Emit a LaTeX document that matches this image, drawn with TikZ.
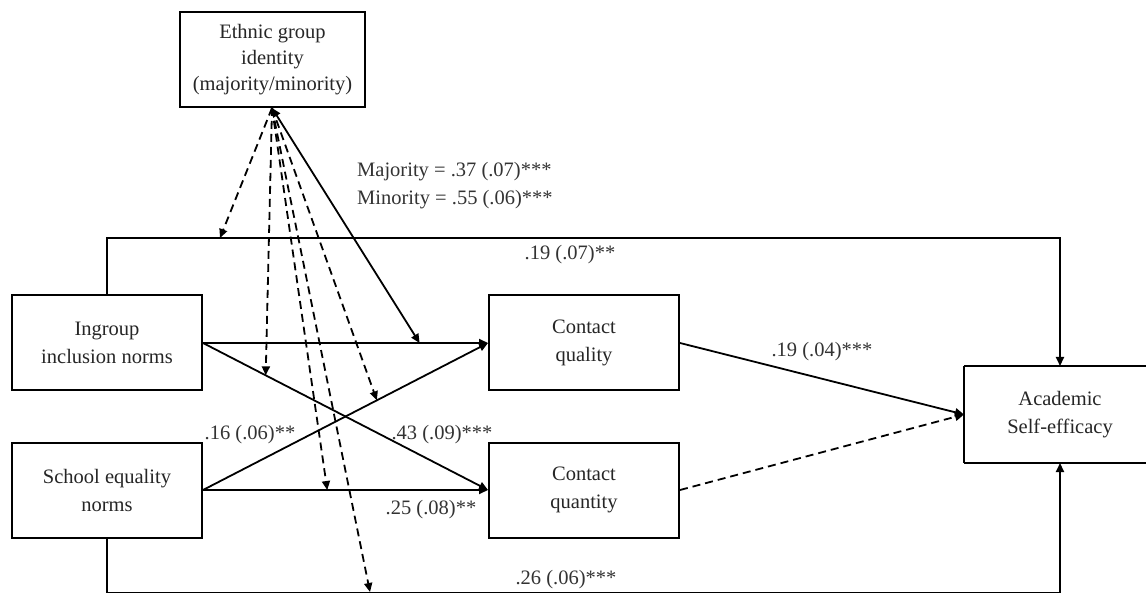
\documentclass[tikz,border=0pt]{standalone}
\usepackage{fontspec}
\setmainfont{Liberation Serif}
\usetikzlibrary{arrows.meta}
\begin{document}
\begin{tikzpicture}[x=1pt,y=-1pt,
  tip/.tip={Triangle[length=9pt,width=8pt]},
  box/.style={draw, line width=2pt, minimum width=190pt, minimum height=95pt, align=center, inner sep=0pt, font=\fontsize{20.5}{28}\selectfont, text=black!85},
  lab/.style={font=\fontsize{20.5}{28}\selectfont, inner sep=0pt, text=black!80},
  conn/.style={line width=1.8pt, -tip},
  dsh/.style={conn, dash pattern=on 8pt off 5pt},
  plain/.style={line width=1.8pt}]
\useasboundingbox (0,0) rectangle (1146,593);
\fill[white] (0,0) rectangle (1146,593);

% boxes
\node[box, minimum width=185pt, font=\fontsize{20.5}{26}\selectfont] (eth) at (272.5,59.5) {Ethnic group\\identity\\(majority/minority)};
\node[box] (ing) at (107,343) {Ingroup\\inclusion norms};
\node[box] (sch) at (107,490) {School equality\\norms};
\node[box] (qual) at (584,343) {Contact\\quality};
\node[box] (quan) at (584,490) {Contact\\quantity};
\node[box, draw=none] (ase) at (1060,414.5) {Academic\\Self-efficacy};
\draw[line width=2pt] (ase.north west) -- ++(260,0) (ase.south west) -- ++(260,0) (ase.north west) -- (ase.south west);

% helper coordinates
\coordinate (top) at (0,238);
\coordinate (bot) at (0,593);
\coordinate (o) at (272,108);

% direct paths
\draw[conn] (ing.north) -- (ing.north |- top) -| (ase.north);
\draw[conn] (sch.south) -- (sch.south |- bot) -| (ase.south);

% paths to mediators
\draw[conn] (ing.east) -- coordinate[pos=0.76] (m1) (qual.west);
\draw[conn] (ing.east) -- coordinate[pos=0.22] (m2) (quan.west);
\draw[conn] (sch.east) -- coordinate[pos=0.61] (m3) (qual.west);
\draw[conn] (sch.east) -- coordinate[pos=0.436] (m4) (quan.west);

% mediators to outcome
\draw[conn] (qual.east) -- (ase.west);
\draw[dsh] (quan.east) -- (ase.west);

% moderation
\coordinate (m0) at (220,238);
\coordinate (m5) at (370,592);
\draw[conn, tip-tip] (o) -- (m1);
\draw[dsh] (o) -- (m0);
\draw[dsh] (o) -- (m2);
\draw[dsh] (o) -- (m4);
\draw[dsh] (o) -- (m5);
\draw[dsh] (o) -- (m3);

% labels
\node[lab, anchor=west] (lmaj) at (357,172) {Majority = .37 (.07)***};
\node[lab, anchor=west] (lmin) at (357,200) {Minority = .55 (.06)***};
\node[lab] (l1) at (570,255) {.19 (.07)**};
\node[lab] (l2) at (822,352) {.19 (.04)***};
\node[lab] (l3) at (250,435) {.16 (.06)**};
\node[lab] (l4) at (442,435) {.43 (.09)***};
\node[lab] (l5) at (431,510) {.25 (.08)**};
\node[lab] (l6) at (566,580) {.26 (.06)***};
\end{tikzpicture}
\end{document}
